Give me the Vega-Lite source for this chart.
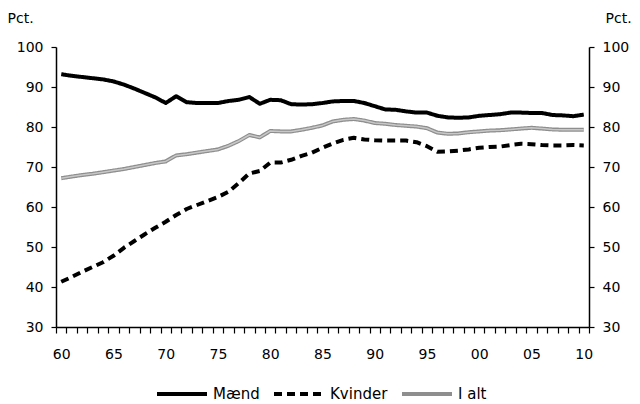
{
  "$schema": "https://vega.github.io/schema/vega-lite/v6.json",
  "width": 533,
  "height": 280,
  "autosize": "none",
  "padding": {"left": 56, "top": 47, "right": 51, "bottom": 77},
  "background": "white",
  "config": {
    "view": {"stroke": null},
    "font": "DejaVu Sans",
    "axis": {
      "grid": false,
      "domainColor": "#000000",
      "domainWidth": 1.5,
      "tickColor": "#000000",
      "tickWidth": 1.2,
      "tickSize": 5,
      "labelColor": "#000000",
      "labelFontSize": 14,
      "labelFont": "DejaVu Sans",
      "titleFont": "DejaVu Sans",
      "titleFontSize": 14,
      "titleFontWeight": "normal",
      "titleColor": "#000000"
    }
  },
  "data": {
    "values": [
      {"year": 1960, "Mænd": 93.2, "Kvinder": 41.3, "I alt": 67.2},
      {"year": 1961, "Mænd": 92.8, "Kvinder": 42.5, "I alt": 67.6},
      {"year": 1962, "Mænd": 92.5, "Kvinder": 43.8, "I alt": 68.0},
      {"year": 1963, "Mænd": 92.2, "Kvinder": 45.0, "I alt": 68.3},
      {"year": 1964, "Mænd": 91.9, "Kvinder": 46.2, "I alt": 68.7},
      {"year": 1965, "Mænd": 91.4, "Kvinder": 47.8, "I alt": 69.1},
      {"year": 1966, "Mænd": 90.6, "Kvinder": 49.8, "I alt": 69.5},
      {"year": 1967, "Mænd": 89.6, "Kvinder": 51.5, "I alt": 70.0},
      {"year": 1968, "Mænd": 88.5, "Kvinder": 53.2, "I alt": 70.5},
      {"year": 1969, "Mænd": 87.4, "Kvinder": 54.8, "I alt": 71.0},
      {"year": 1970, "Mænd": 86.0, "Kvinder": 56.3, "I alt": 71.4},
      {"year": 1971, "Mænd": 87.7, "Kvinder": 58.0, "I alt": 72.9},
      {"year": 1972, "Mænd": 86.2, "Kvinder": 59.5, "I alt": 73.2},
      {"year": 1973, "Mænd": 86.0, "Kvinder": 60.5, "I alt": 73.6},
      {"year": 1974, "Mænd": 86.0, "Kvinder": 61.5, "I alt": 74.0},
      {"year": 1975, "Mænd": 86.0, "Kvinder": 62.5, "I alt": 74.4},
      {"year": 1976, "Mænd": 86.5, "Kvinder": 63.8, "I alt": 75.3},
      {"year": 1977, "Mænd": 86.8, "Kvinder": 66.0, "I alt": 76.5},
      {"year": 1978, "Mænd": 87.5, "Kvinder": 68.4, "I alt": 78.0},
      {"year": 1979, "Mænd": 85.8, "Kvinder": 69.0, "I alt": 77.4},
      {"year": 1980, "Mænd": 86.8, "Kvinder": 71.1, "I alt": 79.0},
      {"year": 1981, "Mænd": 86.7, "Kvinder": 71.1, "I alt": 78.9},
      {"year": 1982, "Mænd": 85.7, "Kvinder": 71.8, "I alt": 78.9},
      {"year": 1983, "Mænd": 85.6, "Kvinder": 72.8, "I alt": 79.3},
      {"year": 1984, "Mænd": 85.7, "Kvinder": 73.6, "I alt": 79.8},
      {"year": 1985, "Mænd": 86.0, "Kvinder": 74.8, "I alt": 80.4},
      {"year": 1986, "Mænd": 86.4, "Kvinder": 75.9, "I alt": 81.4},
      {"year": 1987, "Mænd": 86.5, "Kvinder": 76.8, "I alt": 81.8},
      {"year": 1988, "Mænd": 86.5, "Kvinder": 77.3, "I alt": 82.0},
      {"year": 1989, "Mænd": 86.0, "Kvinder": 76.9, "I alt": 81.6},
      {"year": 1990, "Mænd": 85.2, "Kvinder": 76.7, "I alt": 81.0},
      {"year": 1991, "Mænd": 84.4, "Kvinder": 76.6, "I alt": 80.8},
      {"year": 1992, "Mænd": 84.3, "Kvinder": 76.6, "I alt": 80.5},
      {"year": 1993, "Mænd": 83.9, "Kvinder": 76.6, "I alt": 80.3},
      {"year": 1994, "Mænd": 83.6, "Kvinder": 76.2, "I alt": 80.1},
      {"year": 1995, "Mænd": 83.6, "Kvinder": 75.2, "I alt": 79.7},
      {"year": 1996, "Mænd": 82.8, "Kvinder": 73.8, "I alt": 78.6},
      {"year": 1997, "Mænd": 82.4, "Kvinder": 73.9, "I alt": 78.3},
      {"year": 1998, "Mænd": 82.3, "Kvinder": 74.1, "I alt": 78.4},
      {"year": 1999, "Mænd": 82.4, "Kvinder": 74.4, "I alt": 78.7},
      {"year": 2000, "Mænd": 82.8, "Kvinder": 74.8, "I alt": 78.9},
      {"year": 2001, "Mænd": 83.0, "Kvinder": 75.0, "I alt": 79.1},
      {"year": 2002, "Mænd": 83.2, "Kvinder": 75.1, "I alt": 79.2},
      {"year": 2003, "Mænd": 83.6, "Kvinder": 75.5, "I alt": 79.4},
      {"year": 2004, "Mænd": 83.6, "Kvinder": 75.8, "I alt": 79.6},
      {"year": 2005, "Mænd": 83.5, "Kvinder": 75.7, "I alt": 79.8},
      {"year": 2006, "Mænd": 83.5, "Kvinder": 75.5, "I alt": 79.6},
      {"year": 2007, "Mænd": 83.0, "Kvinder": 75.4, "I alt": 79.4},
      {"year": 2008, "Mænd": 82.9, "Kvinder": 75.4, "I alt": 79.3},
      {"year": 2009, "Mænd": 82.7, "Kvinder": 75.5, "I alt": 79.3},
      {"year": 2010, "Mænd": 83.1, "Kvinder": 75.4, "I alt": 79.3}
    ]
  },
  "transform": [{"fold": ["Mænd", "Kvinder", "I alt"], "as": ["serie", "value"]}],
  "layer": [
    {
      "mark": {"type": "line", "strokeWidth": 4, "strokeJoin": "round", "strokeCap": "butt"},
      "encoding": {
        "x": {
          "field": "year", "type": "quantitative",
          "scale": {"domain": [1959.5, 2010.5], "nice": false, "zero": false},
          "axis": {
            "title": null,
            "orient": "bottom",
            "values": [1959.5, 1960.5, 1961.5, 1962.5, 1963.5, 1964.5, 1965.5, 1966.5, 1967.5, 1968.5, 1969.5, 1970.5, 1971.5, 1972.5, 1973.5, 1974.5, 1975.5, 1976.5, 1977.5, 1978.5, 1979.5, 1980.5, 1981.5, 1982.5, 1983.5, 1984.5, 1985.5, 1986.5, 1987.5, 1988.5, 1989.5, 1990.5, 1991.5, 1992.5, 1993.5, 1994.5, 1995.5, 1996.5, 1997.5, 1998.5, 1999.5, 2000.5, 2001.5, 2002.5, 2003.5, 2004.5, 2005.5, 2006.5, 2007.5, 2008.5, 2009.5, 2010.5],
            "labelExpr": "(datum.value + 0.5) % 5 == 0 ? (((datum.value + 0.5) % 100 < 10 ? '0' : '') + ((datum.value + 0.5) % 100)) : ''",
            "labelOffset": 5.2,
            "labelPadding": 14,
            "tickSize": 6,
            "labelOverlap": false,
            "labelFlush": false,
            "labelBound": false
          }
        },
        "y": {
          "field": "value", "type": "quantitative",
          "scale": {"domain": [30, 100], "nice": false, "zero": false},
          "axis": {
            "orient": "left",
            "values": [30, 40, 50, 60, 70, 80, 90, 100],
            "labelPadding": 8,
            "title": "Pct.",
            "titleAngle": 0,
            "titleX": -49,
            "titleY": -25,
            "titleAlign": "left",
            "titleBaseline": "alphabetic"
          }
        },
        "color": {
          "field": "serie", "type": "nominal",
          "scale": {"domain": ["Mænd", "Kvinder", "I alt"], "range": ["#000000", "#000000", "#8e8e8e"]},
          "legend": {
            "title": null,
            "orient": "none",
            "legendX": 99,
            "legendY": 320,
            "direction": "horizontal",
            "symbolType": "stroke",
            "symbolSize": 2500,
            "symbolStrokeWidth": 4,
            "labelFontSize": 15,
            "labelColor": "#000000",
            "labelOffset": 4,
            "columnPadding": 6
          }
        },
        "strokeDash": {
          "field": "serie", "type": "nominal",
          "scale": {"domain": ["Mænd", "Kvinder", "I alt"], "range": [[1, 0], [8, 5], [1, 0]]},
          "legend": {
            "title": null,
            "orient": "none",
            "legendX": 99,
            "legendY": 320,
            "direction": "horizontal",
            "symbolType": "stroke",
            "symbolSize": 2500,
            "symbolStrokeWidth": 4,
            "labelFontSize": 15,
            "labelColor": "#000000",
            "labelOffset": 4,
            "columnPadding": 6
          }
        }
      }
    },
    {
      "transform": [{"filter": "datum.serie === 'I alt'"}],
      "mark": {"type": "line", "strokeWidth": 1.5, "color": "#c8c8c8", "strokeJoin": "round"},
      "encoding": {
        "x": {
          "field": "year", "type": "quantitative",
          "scale": {"domain": [1959.5, 2010.5], "nice": false, "zero": false},
          "axis": null
        },
        "y": {
          "field": "value", "type": "quantitative",
          "scale": {"domain": [30, 100], "nice": false, "zero": false},
          "axis": {
            "orient": "right",
            "values": [30, 40, 50, 60, 70, 80, 90, 100],
            "labelPadding": 8,
            "title": "Pct.",
            "titleAngle": 0,
            "titleX": 16,
            "titleY": -25,
            "titleAlign": "left",
            "titleBaseline": "alphabetic"
          }
        }
      }
    }
  ],
  "resolve": {"axis": {"y": "independent", "x": "independent"}}
}
